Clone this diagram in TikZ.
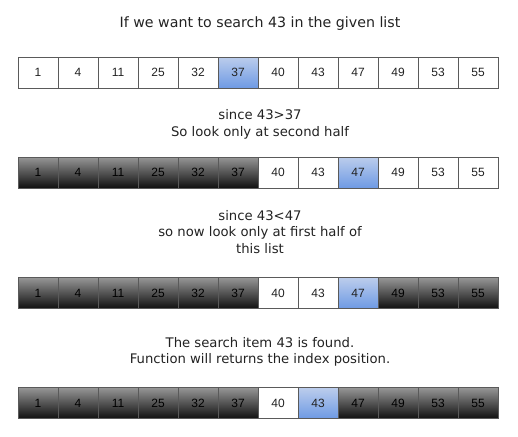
\documentclass[tikz,border=0pt]{standalone}
\usepackage{fontspec}
\setmainfont{DejaVu Sans}
\newfontfamily\numfont{Liberation Sans}
\definecolor{txt}{HTML}{222222}
\definecolor{bord}{HTML}{5A5A5A}
\definecolor{gtop}{HTML}{969696}
\definecolor{gmid}{HTML}{5E5E5E}
\definecolor{gbot}{HTML}{101010}
\definecolor{btop}{HTML}{BCCDEC}
\definecolor{bmid}{HTML}{8AACE6}
\definecolor{bbot}{HTML}{6E9AE4}
\tikzset{
  cell/.style={draw=bord, line width=0.9pt, minimum width=40pt, minimum height=31pt, inner sep=0pt, font=\numfont\fontsize{12}{14}\selectfont, text=txt},
  cw/.style={cell, fill=white},
  cg/.style={cell, top color=gtop, middle color=gmid, bottom color=gbot, text=black},
  cb/.style={cell, top color=btop, middle color=bmid, bottom color=bbot},
  caption/.style={font=\fontsize{13.2}{16.5}\selectfont, text=txt, align=center, inner sep=0pt},
  titlecap/.style={caption, font=\fontsize{14.2}{17}\selectfont}
}
\begin{document}
\begin{tikzpicture}[x=1pt,y=-1pt]
\useasboundingbox (0,0) rectangle (518,436);
\node[titlecap] (t1) at (260,24) {If we want to search 43 in the given list};
\foreach \v/\s [count=\i] in {1/cw,4/cw,11/cw,25/cw,32/cw,37/cb,40/cw,43/cw,47/cw,49/cw,53/cw,55/cw}
  \node[\s] (ra\i) at ({38+40*(\i-1)},72.5) {\v};
\node[caption] (t2) at (260,124.5) {since 43>37\\So look only at second half};
\foreach \v/\s [count=\i] in {1/cg,4/cg,11/cg,25/cg,32/cg,37/cg,40/cw,43/cw,47/cb,49/cw,53/cw,55/cw}
  \node[\s] (rb\i) at ({38+40*(\i-1)},172.5) {\v};
\node[caption] (t3) at (260,232) {since 43<47\\so now look only at first half of\\this list};
\foreach \v/\s [count=\i] in {1/cg,4/cg,11/cg,25/cg,32/cg,37/cg,40/cw,43/cw,47/cb,49/cg,53/cg,55/cg}
  \node[\s] (rc\i) at ({38+40*(\i-1)},293) {\v};
\node[caption] (t4) at (260,352) {The search item 43 is found.\\Function will returns the index position.};
\foreach \v/\s [count=\i] in {1/cg,4/cg,11/cg,25/cg,32/cg,37/cg,40/cw,43/cb,47/cg,49/cg,53/cg,55/cg}
  \node[\s] (rd\i) at ({38+40*(\i-1)},403) {\v};
\end{tikzpicture}
\end{document}
